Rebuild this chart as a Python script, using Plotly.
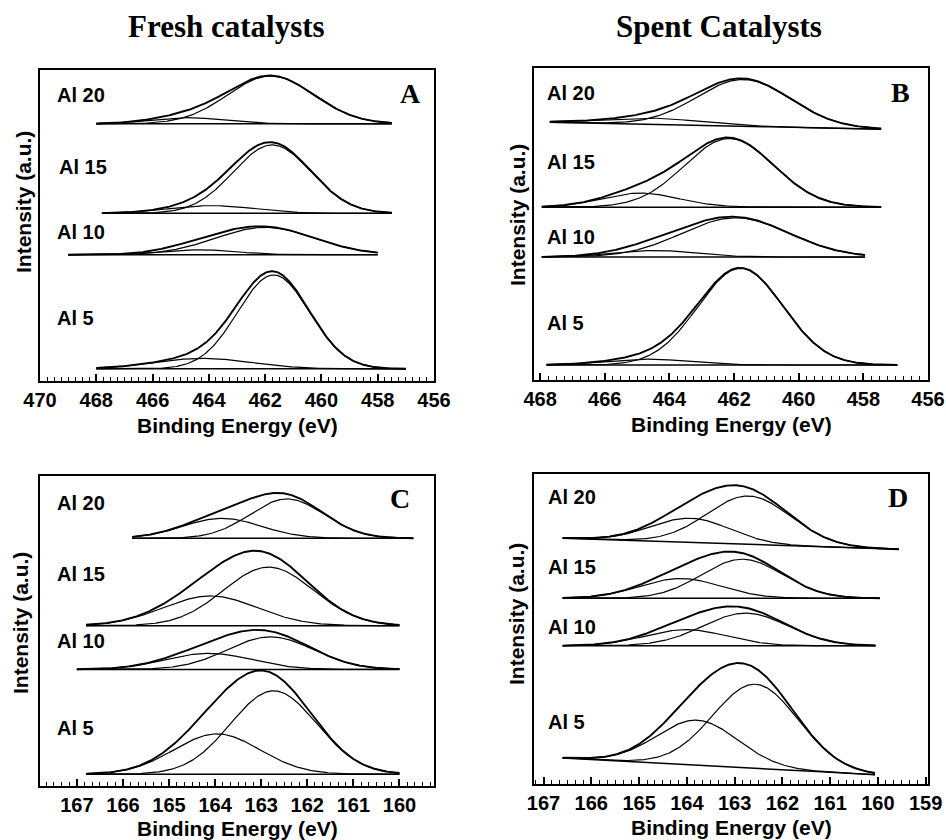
import numpy as np
import plotly.graph_objects as go

W, H = 946, 840

series_names = ["Al 20", "Al 15", "Al 10", "Al 5"]

# ---------------- Panel A : fresh catalysts, 456-470 eV ----------------
A_base_start = [468.0, 467.8, 469.0, 468.0]
A_base_end = [457.5, 457.5, 458.0, 457.0]
A_base_left = [82.7, 53.9, 40.6, 3.9]
A_base_right = [82.7, 53.9, 40.6, 3.9]
A_p1_center = [461.8, 461.75, 462.0, 461.7]
A_p1_height = [15.4, 22.0, 8.8, 30.2]
A_p1_fwhm = [3.6, 3.26, 4.15, 3.0]
A_p2_center = [464.8, 463.9, 464.3, 464.2]
A_p2_height = [2.0, 2.5, 1.6, 3.4]
A_p2_fwhm = [3.0, 3.5, 3.0, 4.0]

# ---------------- Panel B : spent catalysts, 456-468 eV ----------------
B_base_start = [467.7, 467.95, 467.95, 467.8]
B_base_end = [457.45, 457.45, 457.95, 456.95]
B_base_left = [82.6, 55.4, 39.4, 4.8]
B_base_right = [80.4, 55.4, 39.4, 4.8]
B_p1_center = [461.7, 462.15, 461.95, 461.8]
B_p1_height = [15.0, 22.0, 12.6, 31.0]
B_p1_fwhm = [3.4, 3.26, 3.9, 3.1]
B_p2_center = [464.5, 464.9, 464.4, 464.7]
B_p2_height = [2.0, 4.5, 2.1, 1.9]
B_p2_fwhm = [3.5, 2.8, 3.0, 3.0]

# ---------------- Panel C : fresh catalysts, 159-168 eV ----------------
C_base_start = [165.8, 166.8, 167.0, 166.8]
C_base_end = [159.7, 160.0, 160.0, 160.0]
C_base_left = [79.9, 51.7, 37.6, 3.8]
C_base_right = [79.9, 51.7, 37.6, 3.8]
C_p1_center = [163.85, 164.1, 164.14, 163.96]
C_p1_height = [6.45, 9.6, 5.2, 13.0]
C_p1_fwhm = [2.0, 2.4, 2.2, 2.2]
C_p2_center = [162.44, 162.84, 162.8, 162.73]
C_p2_height = [12.7, 18.9, 10.5, 26.9]
C_p2_fwhm = [1.9, 2.3, 2.2, 2.2]

# ---------------- Panel D : spent catalysts, 159-167 eV ----------------
D_base_start = [166.6, 166.6, 166.6, 166.6]
D_base_end = [159.56, 159.96, 160.05, 160.06]
D_base_left = [79.3, 59.9, 44.6, 8.4]
D_base_right = [75.7, 59.9, 44.6, 3.0]
D_p1_center = [163.92, 164.13, 164.02, 163.78]
D_p1_height = [7.8, 6.4, 5.2, 14.5]
D_p1_fwhm = [1.95, 2.0, 2.0, 2.0]
D_p2_center = [162.7, 162.84, 162.77, 162.56]
D_p2_height = [15.6, 12.6, 10.5, 27.1]
D_p2_fwhm = [2.06, 2.0, 2.1, 2.1]

# axes
A_range = [470, 456]
B_range = [468.19, 456]
C_range = [167.8, 159.25]
D_range = [167.2, 158.95]
A_ticks = [470, 468, 466, 464, 462, 460, 458, 456]
B_ticks = [468, 466, 464, 462, 460, 458, 456]
C_ticks = [167, 166, 165, 164, 163, 162, 161, 160]
D_ticks = [167, 166, 165, 164, 163, 162, 161, 160, 159]

panel_letters = ["A", "B", "C", "D"]
column_titles = ["Fresh catalysts", "Spent Catalysts"]
x_title = "Binding Energy (eV)"
y_title = "Intensity (a.u.)"

panels = [
    dict(bs=A_base_start, be=A_base_end, bl=A_base_left, br=A_base_right,
         c1=A_p1_center, h1=A_p1_height, w1=A_p1_fwhm,
         c2=A_p2_center, h2=A_p2_height, w2=A_p2_fwhm,
         rng=A_range, ticks=A_ticks, minor=0.25,
         box=(40, 434, 70, 381), letter=(410, 93),
         labels=[(55, 95), (57, 167), (55, 232), (55, 318)],
         ytitle=(23, 202), xtitle=(237, 425)),
    dict(bs=B_base_start, be=B_base_end, bl=B_base_left, br=B_base_right,
         c1=B_p1_center, h1=B_p1_height, w1=B_p1_fwhm,
         c2=B_p2_center, h2=B_p2_height, w2=B_p2_fwhm,
         rng=B_range, ticks=B_ticks, minor=0.25,
         box=(534, 928, 68, 380), letter=(900, 92),
         labels=[(545, 93), (545, 162), (545, 237), (545, 323)],
         ytitle=(518, 215), xtitle=(731, 424)),
    dict(bs=C_base_start, be=C_base_end, bl=C_base_left, br=C_base_right,
         c1=C_p1_center, h1=C_p1_height, w1=C_p1_fwhm,
         c2=C_p2_center, h2=C_p2_height, w2=C_p2_fwhm,
         rng=C_range, ticks=C_ticks, minor=1 / 6,
         box=(40, 434, 476, 786), letter=(400, 498),
         labels=[(55, 503), (55, 574), (55, 641), (55, 728)],
         ytitle=(20, 623), xtitle=(237, 828)),
    dict(bs=D_base_start, be=D_base_end, bl=D_base_left, br=D_base_right,
         c1=D_p1_center, h1=D_p1_height, w1=D_p1_fwhm,
         c2=D_p2_center, h2=D_p2_height, w2=D_p2_fwhm,
         rng=D_range, ticks=D_ticks, minor=1 / 6,
         box=(534, 928, 474, 784), letter=(898, 497),
         labels=[(546, 497), (546, 567), (546, 627), (546, 722)],
         ytitle=(516, 614), xtitle=(731, 827)),
]


def gauss(x, c, h, w):
    return h * np.exp(-4 * np.log(2) * ((x - c) / w) ** 2)


fig = go.Figure()
annotations = []
SANS = "Liberation Sans"
SERIF = "Liberation Serif"

for i, p in enumerate(panels):
    k = "" if i == 0 else str(i + 1)
    xa, ya = "x" + k, "y" + k
    for j in range(4):
        x = np.linspace(p["bs"][j], p["be"][j], 400)
        t = (x - p["bs"][j]) / (p["be"][j] - p["bs"][j])
        base = p["bl"][j] + (p["br"][j] - p["bl"][j]) * t
        g1 = gauss(x, p["c1"][j], p["h1"][j], p["w1"][j])
        g2 = gauss(x, p["c2"][j], p["h2"][j], p["w2"][j])
        for yy, wdt in ((base, 1.5), (base + g1, 1.2), (base + g2, 1.2),
                        (base + g1 + g2, 1.9)):
            fig.add_trace(go.Scatter(x=x, y=yy, mode="lines", xaxis=xa, yaxis=ya,
                                     line=dict(color="black", width=wdt),
                                     showlegend=False, hoverinfo="skip"))
    x0, x1, y0, y1 = p["box"]
    fig.layout["xaxis" + k] = dict(
        domain=[x0 / W, x1 / W], anchor=ya, range=p["rng"], automargin=False,
        tickmode="array", tickvals=p["ticks"], ticktext=[str(v) for v in p["ticks"]],
        ticks="inside", ticklen=7, tickwidth=1.5, tickcolor="black",
        minor=dict(dtick=p["minor"], tick0=p["ticks"][0], ticks="inside",
                   ticklen=4, tickwidth=1.2, tickcolor="black"),
        showline=True, linewidth=2, linecolor="black", mirror=True,
        showgrid=False, zeroline=False, fixedrange=True,
        tickfont=dict(family=SANS, size=20, color="black", weight="bold"))
    fig.layout["yaxis" + k] = dict(
        domain=[1 - y1 / H, 1 - y0 / H], anchor=xa, range=[0, 100], automargin=False,
        showticklabels=False, ticks="", showline=True, linewidth=2, fixedrange=True,
        linecolor="black", mirror=True, showgrid=False, zeroline=False)
    # series labels
    for j, (lx, ly) in enumerate(p["labels"]):
        annotations.append(dict(x=lx / W, y=1 - ly / H, xref="paper", yref="paper",
                                text=series_names[j], showarrow=False,
                                xanchor="left", yanchor="middle",
                                font=dict(family=SANS, size=20, color="black", weight="bold")))
    lx, ly = p["letter"]
    annotations.append(dict(x=lx / W, y=1 - ly / H, xref="paper", yref="paper",
                            text=panel_letters[i], showarrow=False,
                            xanchor="center", yanchor="middle",
                            font=dict(family=SERIF, size=28, color="black", weight="bold")))
    tx, ty = p["ytitle"]
    annotations.append(dict(x=tx / W, y=1 - ty / H, xref="paper", yref="paper",
                            text=y_title, showarrow=False, textangle=-90,
                            xanchor="center", yanchor="middle",
                            font=dict(family=SANS, size=21, color="black", weight="bold")))
    tx, ty = p["xtitle"]
    annotations.append(dict(x=tx / W, y=1 - ty / H, xref="paper", yref="paper",
                            text=x_title, showarrow=False,
                            xanchor="center", yanchor="middle",
                            font=dict(family=SANS, size=21, color="black", weight="bold")))

for (cx, cy), txt in zip([(226, 27), (719, 27)], column_titles):
    annotations.append(dict(x=cx / W, y=1 - cy / H, xref="paper", yref="paper",
                            text=txt, showarrow=False, xanchor="center", yanchor="middle",
                            font=dict(family=SERIF, size=31, color="black", weight="bold")))

fig.update_layout(width=W, height=H, margin=dict(l=0, r=0, t=0, b=0, autoexpand=False),
                  paper_bgcolor="white", plot_bgcolor="white",
                  annotations=annotations)
fig.write_html("out.html", config={"displayModeBar": False},
               post_script="document.body.style.margin='0';"
                           "document.body.style.overflow='hidden';")
